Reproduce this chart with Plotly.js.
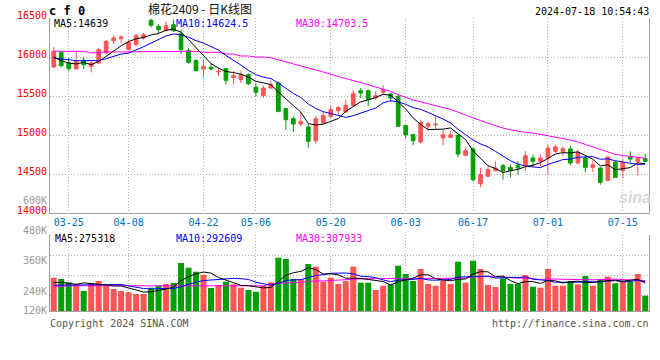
<!DOCTYPE html>
<html>
<head>
<meta charset="utf-8">
<script src="https://cdn.plot.ly/plotly-3.0.1.min.js"></script>
<style>html,body{margin:0;padding:0;background:#fff;}#chart{width:660px;height:360px;}</style>
</head>
<body>
<div id="chart"></div>
<script>
// ---- data ----
const dates = ['03-21','03-22','03-25','03-26','03-27','03-28','03-29','04-01','04-02','04-03',
 '04-08','04-09','04-10','04-11','04-12','04-15','04-16','04-17','04-18','04-19',
 '04-22','04-23','04-24','04-25','04-26','04-29','04-30','05-06','05-07','05-08',
 '05-09','05-10','05-13','05-14','05-15','05-16','05-17','05-20','05-21','05-22',
 '05-23','05-24','05-27','05-28','05-29','05-30','05-31','06-03','06-04','06-05',
 '06-06','06-07','06-11','06-12','06-13','06-14','06-17','06-18','06-19','06-20',
 '06-21','06-24','06-25','06-26','06-27','06-28','07-01','07-02','07-03','07-04',
 '07-05','07-08','07-09','07-10','07-11','07-12','07-15','07-16','07-17','07-18'];

const openP = [15872,16060,15923,15846,15957,15880,15923,16051,16209,16235,
 16094,16158,16244,16470,16393,16338,16415,16299,16085,15957,
 15846,15868,15808,15850,15739,15709,15774,15611,15504,15603,
 15667,15338,15209,15141,15103,14927,15154,15239,15312,15295,
 15380,15568,15568,15474,15547,15526,15496,15120,15004,14910,
 15111,15128,14962,14970,14996,14739,14821,14376,14470,14543,
 14607,14585,14607,14607,14705,14662,14705,14791,14791,14821,
 14641,14705,14585,14577,14419,14650,14543,14714,14662,14697];
const highP = [16128,16073,15987,16064,16000,15944,16115,16218,16278,16278,
 16214,16295,16308,16491,16423,16457,16479,16350,16115,15966,
 15966,15923,15859,15859,15816,15825,15786,15667,15632,15697,
 15688,15346,15239,15295,15141,15248,15295,15380,15368,15453,
 15581,15603,15581,15560,15637,15538,15517,15132,15017,15197,
 15167,15239,15068,15056,15004,14842,14842,14577,14598,14662,
 14628,14620,14662,14791,14748,14756,14876,14876,14855,14863,
 14812,14726,14675,14585,14726,14671,14692,14791,14726,14756];
const lowP = [15859,15868,15816,15846,15846,15803,15910,16043,16167,16175,
 16085,16150,16222,16380,16308,16329,16320,16038,15915,15816,
 15739,15829,15752,15645,15645,15667,15637,15496,15474,15594,
 15291,15068,15038,15111,14833,14889,15141,15209,15261,15291,
 15368,15474,15368,15453,15517,15423,15103,14962,14868,14889,
 15056,15081,14868,14962,14714,14739,14406,14329,14462,14534,
 14427,14457,14491,14543,14598,14598,14500,14769,14726,14611,
 14628,14521,14526,14363,14406,14449,14449,14650,14483,14650];
const closeP = [16073,15889,15850,15944,15902,15923,16094,16201,16244,16256,
 16192,16274,16286,16406,16350,16402,16338,16094,15932,15825,
 15880,15846,15816,15701,15761,15774,15658,15547,15603,15645,
 15303,15197,15141,15175,14919,15209,15248,15325,15355,15380,
 15530,15538,15453,15504,15581,15474,15111,15004,14927,15162,
 15145,15137,15004,15004,14756,14799,14427,14491,14556,14577,
 14543,14543,14577,14735,14662,14705,14833,14846,14825,14641,
 14778,14585,14620,14393,14718,14457,14650,14692,14697,14662];
const volume = [333000,320000,287000,267000,200000,280000,300000,253000,220000,200000,
 187000,170000,170000,233000,253000,270000,280000,480000,433000,393000,
 360000,230000,260000,293000,267000,233000,210000,193000,253000,287000,
 533000,520000,320000,320000,470000,443000,293000,333000,270000,300000,
 443000,283000,283000,210000,253000,267000,453000,370000,300000,420000,
 270000,253000,300000,270000,493000,283000,503000,420000,260000,240000,
 327000,270000,270000,360000,243000,233000,420000,253000,253000,300000,
 267000,350000,253000,320000,343000,277000,300000,293000,370000,153000];

// moving-average values before a full window exists
const ma5Head  = [16000,15953,15923,15910];
const ma10Head = [15987,15974,15957,15953,15953,15953,15953,15979,16009];
const ma30Head = [16073,16073,16073,16073,16073,16051,16060,16065,16065,16065,
 16065,16065,16065,16065,16073,16073,16073,16073,16073,16073,
 16060,16060,16060,16038,16038,16013,16013,16000,16000];
const vma5Head  = [283000,287000,277000,267000];
const vma10Head = [258000,260000,262000,262000,262000,262000,262000,262000,264000];
const vma30Head = [243000,243000,252000,252000,252000,252000,252000,252000,252000,252000,
 252000,252000,252000,252000,252000,252000,252000,252000,252000,252000,
 252000,252000,252000,252000,252000,252000,252000,252000,252000];

const tickDates = ['03-25','04-08','04-22','05-06','05-20','06-03','06-17','07-01','07-15'];
const priceTicks = [14000,14500,15000,15500,16000,16500];
const priceTickText = ['14000','14500','15000','15500','16000','16500'];
const volLabels = ['600K','480K','360K','240K','120K'];
const title = '棉花2409 - 日K线图';
const stamp = '2024-07-18 10:54:43';
const priceMA = {ma5:'MA5:14639', ma10:'MA10:14624.5', ma30:'MA30:14703.5'};
const volMA = {ma5:'MA5:275318', ma10:'MA10:292609', ma30:'MA30:307933'};

// ---- helpers ----
function movAvg(arr, n, head){
  return arr.map((_, i) => {
    if (i < n - 1) return head[i];
    let s = 0; for (let k = i - n + 1; k <= i; k++) s += arr[k];
    return s / n;
  });
}
const RED = '#ff5555', GREEN = '#00a000';
const volColors = closeP.map((c, i) => c >= openP[i] ? RED : GREEN);

// ---- geometry (pixels) ----
const W = 660, H = 360, ML = 50, MR = 11, MT = 18, MB = 49;
const PW = W - ML - MR, PH = H - MT - MB;
const px = x => (x - ML) / PW;
const py = y => (H - MB - y) / PH;
const GRID = '#b0b0b0', BORDER = '#a0a0a0', DASH = '1px,2px';
const MONO = 'DejaVu Sans Mono';

const traces = [
  {type:'candlestick', x:dates, open:openP, high:highP, low:lowP, close:closeP,
   xaxis:'x', yaxis:'y', whiskerwidth:0, hoverinfo:'skip',
   increasing:{line:{color:RED,width:1}, fillcolor:RED},
   decreasing:{line:{color:GREEN,width:1}, fillcolor:GREEN}},
  {type:'scatter', mode:'lines', x:dates, y:movAvg(closeP,30,ma30Head), xaxis:'x', yaxis:'y', line:{color:'#ff00ff',width:1}, hoverinfo:'skip'},
  {type:'scatter', mode:'lines', x:dates, y:movAvg(closeP,10,ma10Head), xaxis:'x', yaxis:'y', line:{color:'#0000ff',width:1}, hoverinfo:'skip'},
  {type:'scatter', mode:'lines', x:dates, y:movAvg(closeP,5,ma5Head), xaxis:'x', yaxis:'y', line:{color:'#000000',width:1}, hoverinfo:'skip'},
  {type:'bar', x:dates, y:volume, xaxis:'x2', yaxis:'y2', marker:{color:volColors, line:{width:0}}, hoverinfo:'skip'},
  {type:'scatter', mode:'lines', x:dates, y:movAvg(volume,30,vma30Head), xaxis:'x2', yaxis:'y2', line:{color:'#ff00ff',width:1}, hoverinfo:'skip'},
  {type:'scatter', mode:'lines', x:dates, y:movAvg(volume,10,vma10Head), xaxis:'x2', yaxis:'y2', line:{color:'#0000ff',width:1}, hoverinfo:'skip'},
  {type:'scatter', mode:'lines', x:dates, y:movAvg(volume,5,vma5Head), xaxis:'x2', yaxis:'y2', line:{color:'#000000',width:1}, hoverinfo:'skip'}
];

function txt(text, x, y, color, anchor, size, extra){
  return Object.assign({text:text, xref:'paper', yref:'paper', x:px(x), y:py(y),
    xanchor:anchor, yanchor:'middle', showarrow:false, borderpad:0,
    font:{family:MONO, size:size, color:color}}, extra || {});
}

const annotations = [
  txt('c f 0', 48, 11, '#000', 'left', 12, {font:{family:MONO, size:12, color:'#000', weight:'bold'}}),
  txt(title, 200, 9, '#111', 'center', 12, {font:{family:'Noto Sans CJK SC', size:12, color:'#111'}}),
  txt(stamp, 650, 12, '#000', 'right', 10),
  txt(priceMA.ma5, 53, 24, '#000', 'left', 10),
  txt(priceMA.ma10, 175, 24, '#0000ff', 'left', 10),
  txt(priceMA.ma30, 295, 24, '#ff00ff', 'left', 10),
  txt(volMA.ma5, 54, 238.5, '#000', 'left', 10),
  txt(volMA.ma10, 175, 238.5, '#0000ff', 'left', 10),
  txt(volMA.ma30, 295, 238.5, '#ff00ff', 'left', 10),
  txt('Copyright 2024 SINA.COM', 49, 323.5, '#555', 'left', 10),
  txt('http://finance.sina.com.cn', 650, 323.5, '#555', 'right', 10),
  txt('sina', 635, 197, '#d4d4d4', 'center', 16, {font:{family:'Liberation Sans', size:16, color:'#d8d8d8', weight:'bold', style:'italic'}})
];
const volLabelY = [200, 230, 260.7, 291, 310];
volLabels.forEach((t, k) => annotations.push(txt(t, 47.5, volLabelY[k], '#999', 'right', 10)));

const layout = {
  width:W, height:H, margin:{l:ML, r:MR, t:MT, b:MB, pad:0},
  paper_bgcolor:'#fff', plot_bgcolor:'#fff', showlegend:false,
  font:{family:MONO, size:10},
  xaxis:{type:'category', domain:[0,1], anchor:'y', range:[-0.5, dates.length - 0.5],
    categoryorder:'array', categoryarray:dates, tickvals:tickDates, ticktext:tickDates,
    tickfont:{family:MONO, size:10, color:'#0070c0'}, ticks:'',
    showgrid:true, gridcolor:GRID, griddash:DASH, gridwidth:1,
    showline:true, linecolor:BORDER, linewidth:1, rangeslider:{visible:false}, fixedrange:true},
  yaxis:{domain:[py(213), 1], anchor:'x', range:[14000, 16500], tickvals:priceTicks, ticktext:priceTickText,
    tickfont:{family:MONO, size:10, color:'#ff0000'}, ticks:'', ticklabelshift:-3,
    showgrid:true, gridcolor:GRID, griddash:DASH, gridwidth:1, zeroline:false,
    showline:true, mirror:true, linecolor:BORDER, linewidth:1, fixedrange:true},
  xaxis2:{type:'category', domain:[0,1], anchor:'y2', range:[-0.5, dates.length - 0.5],
    categoryorder:'array', categoryarray:dates, tickvals:tickDates, showticklabels:false, ticks:'',
    showgrid:true, gridcolor:GRID, griddash:DASH, gridwidth:1,
    showline:true, linecolor:BORDER, linewidth:1, fixedrange:true},
  yaxis2:{domain:[0, py(235)], anchor:'x2', range:[0, 760000],
    tickvals:[160000, 357000, 553000, 760000], showticklabels:false, ticks:'',
    showgrid:true, gridcolor:GRID, griddash:DASH, gridwidth:1, zeroline:false,
    showline:true, mirror:true, linecolor:BORDER, linewidth:1, fixedrange:true},
  bargap:0.2,
  annotations:annotations
};

Plotly.newPlot('chart', traces, layout, {staticPlot:true, displayModeBar:false});
</script>
</body>
</html>
